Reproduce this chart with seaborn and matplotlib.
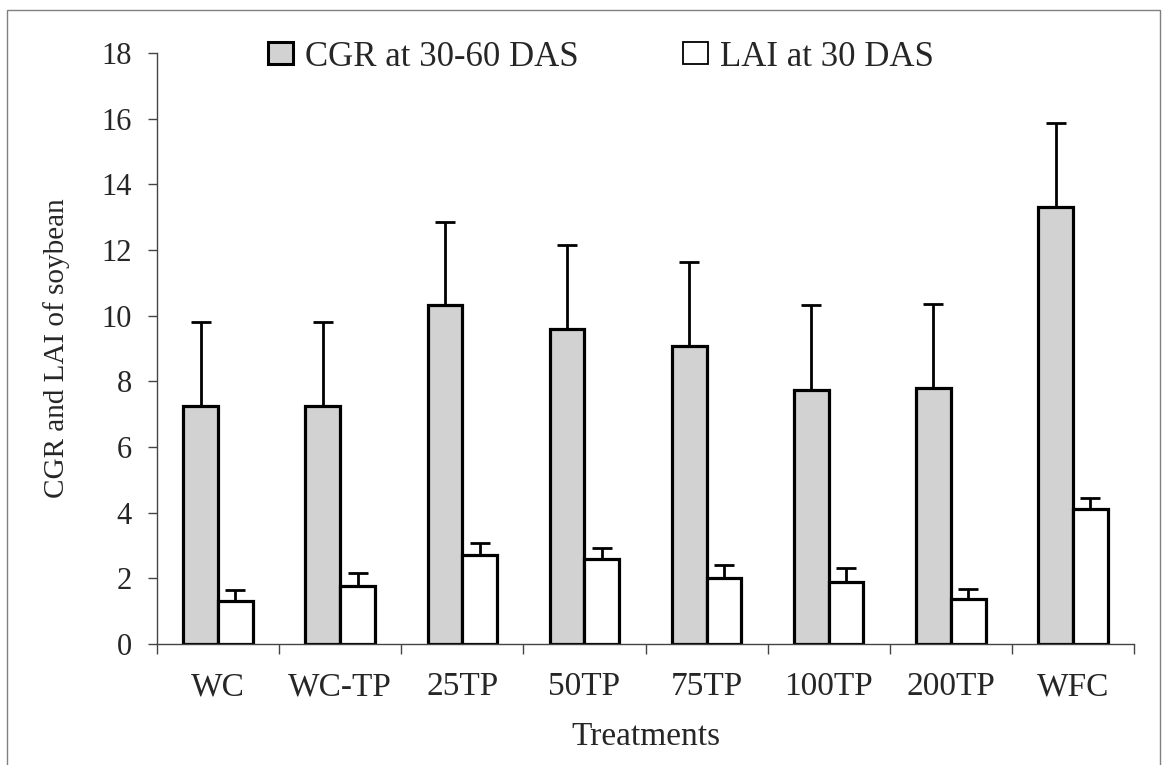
import matplotlib
matplotlib.use('Agg')
import matplotlib.pyplot as plt
from matplotlib.patches import Patch, Rectangle
import pandas as pd
import seaborn as sns

# Datos
tratamientos = ['WC', 'WC-TP', '25TP', '50TP', '75TP', '100TP', '200TP', 'WFC']
cgr = [7.26, 7.26, 10.31, 9.59, 9.07, 7.74, 7.80, 13.30]
cgr_err = [2.54, 2.54, 2.55, 2.56, 2.56, 2.57, 2.56, 2.58]
lai = [1.32, 1.76, 2.72, 2.60, 2.02, 1.90, 1.37, 4.12]
lai_err = [0.32, 0.41, 0.35, 0.32, 0.39, 0.42, 0.32, 0.33]
series = ['CGR at 30-60 DAS', 'LAI at 30 DAS']
y_ticks = list(range(0, 19, 2))

df = pd.DataFrame({
    'tratamiento': tratamientos * 2,
    'valor': cgr + lai,
    'serie': [series[0]] * len(tratamientos) + [series[1]] * len(tratamientos),
})

sns.set_style('white')
plt.rcParams['font.family'] = ['Liberation Serif', 'DejaVu Serif']

colores = {series[0]: '#d2d2d2', series[1]: 'white'}

fig = plt.figure(figsize=(11.67, 7.65), dpi=100)
ax = fig.add_axes([0.13453, 0.15817, 0.8372, 0.77255])

sns.barplot(data=df, x='tratamiento', y='valor', hue='serie',
            palette=colores, width=0.57, edgecolor='black', linewidth=2.3,
            errorbar=None, legend=False, ax=ax, zorder=2)

# Barras de error (solo hacia arriba)
for cont, errs in zip(ax.containers, [cgr_err, lai_err]):
    xs = [b.get_x() + b.get_width() / 2 for b in cont]
    hs = [b.get_height() for b in cont]
    ax.errorbar(xs, hs, yerr=[[0] * len(errs), errs], fmt='none',
                ecolor='black', elinewidth=2.0, capsize=7.2, capthick=2.0,
                zorder=3)

# Ejes
ax.set_xlim(-0.5, len(tratamientos) - 0.5)
ax.set_ylim(0, 18)
ax.set_yticks(y_ticks)
ax.set_yticklabels([str(t) for t in y_ticks], fontsize=22)
ax.set_xticks(range(len(tratamientos)))
ax.set_xticklabels(tratamientos, fontsize=24)
ax.set_xticks([i - 0.5 for i in range(len(tratamientos) + 1)], minor=True)
ax.tick_params(axis='x', which='major', length=0, pad=20)
ax.tick_params(axis='x', which='minor', length=7.2, width=1.0,
               direction='out', color='#444444', bottom=True)
ax.tick_params(axis='y', which='major', length=6.5, width=1.0,
               direction='out', color='#444444', pad=11.5, left=True)

for lado in ['top', 'right']:
    ax.spines[lado].set_visible(False)
for lado in ['left', 'bottom']:
    ax.spines[lado].set_color('#444444')
    ax.spines[lado].set_linewidth(1.0)

ax.set_xlabel('Treatments', fontsize=24)
ax.set_ylabel('CGR and LAI of soybean', fontsize=21)
ax.xaxis.set_label_coords(0.5, -0.131)
ax.yaxis.set_label_coords(-0.089, 0.5)

# Leyenda
handles = [Patch(facecolor=colores[series[0]], edgecolor='black', linewidth=2.2),
           Patch(facecolor='white', edgecolor='black', linewidth=1.3)]
fig.legend(handles, series, loc='center left',
           bbox_to_anchor=(268 / 1167, 1 - 57 / 765), ncol=2, frameon=False,
           fontsize=25, handlelength=0.72, handleheight=0.6,
           handletextpad=0.35, columnspacing=3.0, borderpad=0,
           borderaxespad=0)

# Marco exterior
fig.patches.append(Rectangle((7 / 1167, -0.02), 1153 / 1167, 1.02 - 10 / 765,
                             transform=fig.transFigure, fill=False,
                             edgecolor='#808080', linewidth=1.0))

fig.savefig('out.png', dpi=100)
